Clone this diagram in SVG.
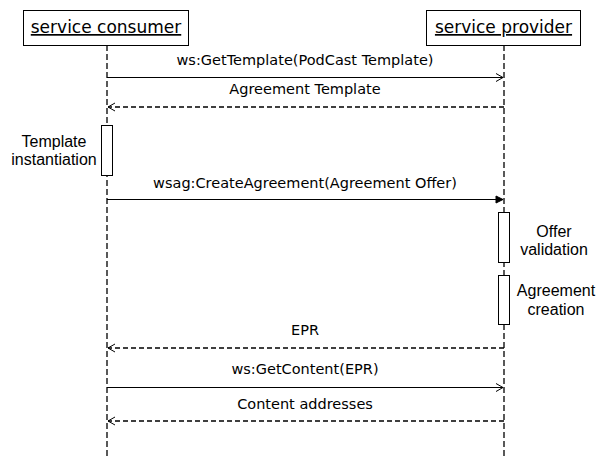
<svg xmlns="http://www.w3.org/2000/svg" width="598" height="456" viewBox="0 0 598 456">
<defs>
<style>
.box{fill:#fff;stroke:#000;stroke-width:1}
.hdr{font-family:"DejaVu Sans",Verdana,sans-serif;font-size:17px;fill:#000;text-anchor:middle;text-decoration:underline}
.life{stroke:#000;stroke-width:1.3;stroke-dasharray:6,3;fill:none}
.act{fill:#fff;stroke:#000;stroke-width:1}
.note{font-family:"Liberation Sans",Arial,sans-serif;font-size:16px;fill:#000;text-anchor:middle}
.msg{font-family:"DejaVu Sans",Verdana,sans-serif;font-size:14.5px;fill:#000;text-anchor:middle}
.call{stroke:#000;stroke-width:1;fill:none}
.ret{stroke:#000;stroke-width:1.3;stroke-dasharray:5,3;fill:none}
</style>
<marker id="open" markerWidth="10" markerHeight="10" refX="8" refY="5" orient="auto" markerUnits="userSpaceOnUse">
<path d="M1,1 L8,5 L1,9" fill="none" stroke="#000" stroke-width="1"/>
</marker>
<marker id="filled" markerWidth="10" markerHeight="10" refX="8" refY="5" orient="auto" markerUnits="userSpaceOnUse">
<path d="M1,1.5 L8,5 L1,8.5 Z" fill="#000" stroke="#000" stroke-width="1"/>
</marker>
</defs>
<rect width="598" height="456" fill="#fff"/>
<g id="lifelines">
<line class="life" x1="107" y1="45" x2="107" y2="456"/>
<line class="life" x1="504" y1="45" x2="504" y2="456"/>
</g>
<g id="consumer">
<rect class="box" x="23.5" y="10.5" width="165" height="35"/>
<text class="hdr" x="106" y="33">service consumer</text>
</g>
<g id="provider">
<rect class="box" x="426.5" y="10.5" width="154" height="35"/>
<text class="hdr" x="503.5" y="33">service provider</text>
</g>
<g id="template-instantiation">
<rect class="act" x="101.5" y="125.5" width="11" height="50"/>
<text class="note" x="54" y="147">Template</text>
<text class="note" x="54" y="165">instantiation</text>
</g>
<g id="offer-validation">
<rect class="act" x="498.5" y="212.5" width="11" height="50"/>
<text class="note" x="554" y="237">Offer</text>
<text class="note" x="554" y="255">validation</text>
</g>
<g id="agreement-creation">
<rect class="act" x="498.5" y="275.5" width="11" height="49"/>
<text class="note" x="556" y="296">Agreement</text>
<text class="note" x="556" y="315">creation</text>
</g>
<g id="connectors">
<line class="call" x1="107" y1="77.5" x2="503" y2="77.5" marker-end="url(#open)"/>
<text class="msg" x="305" y="65">ws:GetTemplate(PodCast Template)</text>
<line class="ret" x1="504" y1="107" x2="108" y2="107" marker-end="url(#open)"/>
<text class="msg" x="305" y="94">Agreement Template</text>
<line class="call" x1="107" y1="199.5" x2="503" y2="199.5" marker-end="url(#filled)"/>
<text class="msg" x="305" y="188">wsag:CreateAgreement(Agreement Offer)</text>
<line class="ret" x1="504" y1="348" x2="108" y2="348" marker-end="url(#open)"/>
<text class="msg" x="305" y="335">EPR</text>
<line class="call" x1="107" y1="387.5" x2="503" y2="387.5" marker-end="url(#open)"/>
<text class="msg" x="305" y="374">ws:GetContent(EPR)</text>
<line class="ret" x1="504" y1="421" x2="108" y2="421" marker-end="url(#open)"/>
<text class="msg" x="305" y="409">Content addresses</text>
</g>
</svg>
